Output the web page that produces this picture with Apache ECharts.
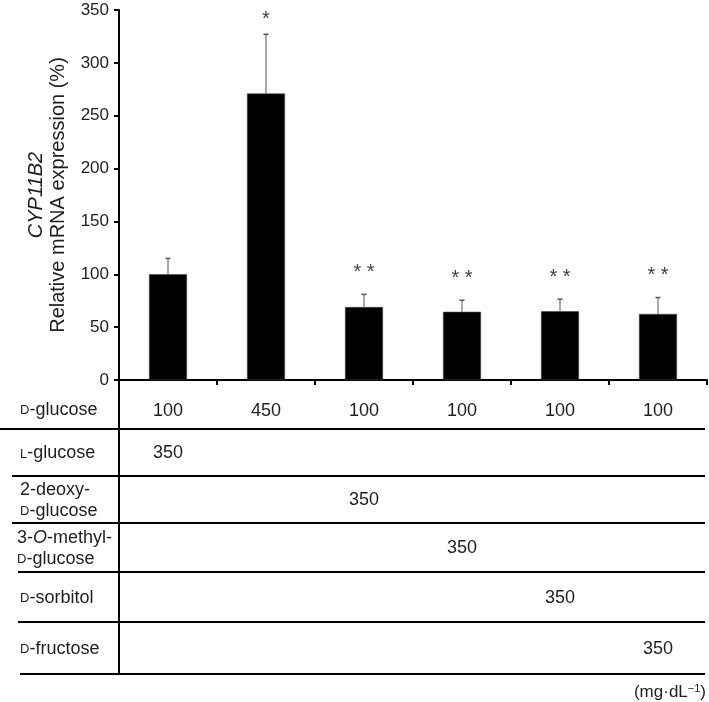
<!DOCTYPE html>
<html><head><meta charset="utf-8">
<script src="https://cdn.jsdelivr.net/npm/echarts@6/dist/echarts.min.js"></script>
<style>html,body{margin:0;padding:0;background:#fff}#c{width:709px;height:702px}</style>
</head><body><div id="c"></div>
<script>
// ---- data ----
const dGlucose = ['100', '450', '100', '100', '100', '100'];   // mg/dL, also x-axis labels
const meanExpr = [100, 271, 69, 64.5, 65, 62.5];               // relative mRNA expression (%)
const sdExpr = [15, 56, 12, 11, 11.5, 15.5];                   // upper error bars
const signif = ['', '*', '* *', '* *', '* *', '* *'];
const yMin = 0, yMax = 350, yStep = 50;
const rowLabels = ['{sc|L}-glucose', '2-deoxy-\n{sc|D}-glucose', '3-{it|O}-methyl-\n{sc|D}-glucose', '{sc|D}-sorbitol', '{sc|D}-fructose'];
const lGlucose = ['350', '', '', '', '', ''];
const deoxyGlucose = ['', '', '350', '', '', ''];
const methylGlucose = ['', '', '', '350', '', ''];
const sorbitol = ['', '', '', '', '350', ''];
const fructose = ['', '', '', '', '', '350'];
const tableRows = [lGlucose, deoxyGlucose, methylGlucose, sorbitol, fructose];
const unitText = '(mg·dL{sup|−1})';

const FONT = "'Liberation Sans', Arial, sans-serif";
const TXT = '#1e1e1e';
const GRID_TOP = 10;
const chart = echarts.init(document.getElementById('c'), null, {renderer: 'canvas'});

chart.setOption({
  animation: false,
  backgroundColor: '#fff',
  grid: {left: 119, right: 2, top: GRID_TOP, bottom: 322, containLabel: false, outerBoundsMode: 'none'},
  xAxis: {
    type: 'category', data: dGlucose, boundaryGap: true,
    axisLine: {lineStyle: {color: '#000', width: 2}},
    axisTick: {show: true, length: 5, lineStyle: {color: '#000', width: 2}, alignWithLabel: false},
    axisLabel: {color: TXT, fontSize: 18, fontFamily: FONT, margin: 22, interval: 0}
  },
  yAxis: {
    type: 'value', min: yMin, max: yMax, interval: yStep,
    name: '{i|CYP11B2}\n{n|Relative mRNA expression (%)}',
    nameLocation: 'middle', nameRotate: 90, nameGap: 50,
    nameTextStyle: {color: TXT, fontFamily: FONT, fontSize: 20, lineHeight: 22,
      rich: {i: {fontStyle: 'italic', fontSize: 20, fontFamily: FONT, color: TXT, lineHeight: 22},
             n: {fontSize: 20, fontFamily: FONT, color: TXT, lineHeight: 22}}},
    axisLine: {show: true, lineStyle: {color: '#000', width: 2}},
    axisTick: {show: true, length: 5, lineStyle: {color: '#000', width: 2}},
    axisLabel: {color: TXT, fontSize: 17, fontFamily: FONT, margin: 10},
    splitLine: {show: false}
  },
  series: [
    {type: 'bar', data: meanExpr, barWidth: 38, itemStyle: {color: '#000', borderColor: '#444', borderWidth: 0.6}},
    {type: 'custom', z: 5, clip: false,
      data: meanExpr.map((m, i) => [i, m, sdExpr[i]]),
      renderItem: function (params, api) {
        const i = api.value(0);
        const base = api.coord([i, api.value(1)]);
        const top = api.coord([i, api.value(1) + api.value(2)]);
        const starY = Math.max(top[1] - 22, GRID_TOP + 9);
        return {type: 'group', children: [
          {type: 'line', shape: {x1: base[0], y1: base[1], x2: top[0], y2: top[1]}, style: {stroke: '#555', lineWidth: 1}},
          {type: 'line', shape: {x1: top[0] - 2.5, y1: top[1], x2: top[0] + 2.5, y2: top[1]}, style: {stroke: '#555', lineWidth: 1.5}},
          {type: 'text', x: top[0], y: starY, style: {text: signif[params.dataIndex], fill: '#444', fontSize: 20, fontFamily: FONT, align: 'center', verticalAlign: 'middle'}}
        ]};
      }
    }
  ]
});

// ---- table below the chart ----
const colX = dGlucose.map((_, i) => chart.convertToPixel({xAxisIndex: 0}, i));
const axisY = chart.convertToPixel({yAxisIndex: 0}, yMin);
const axisX = colX[0] - (colX[1] - colX[0]) / 2;
const lineYs = [429, 476, 523, 572, 622, 674];
const lineX0 = [0, 12, 12, 18, 18, 20];
const lineX1 = 705;
const g = [];
const labelRich = {sc: {fontSize: 13, fontFamily: FONT, fill: TXT, verticalAlign: 'bottom', padding: [0, 0, 3.5, 0]},
                   it: {fontStyle: 'italic', fontSize: 18, fontFamily: FONT, fill: TXT}};
// vertical separator (continuation of y axis)
g.push({type: 'line', shape: {x1: axisX, y1: axisY, x2: axisX, y2: lineYs[lineYs.length - 1] + 1}, style: {stroke: '#000', lineWidth: 2}});
lineYs.forEach((y, k) => g.push({type: 'line', shape: {x1: lineX0[k], y1: y, x2: lineX1, y2: y}, style: {stroke: '#000', lineWidth: 2}}));
// D-glucose row label
g.push({type: 'text', x: 20, y: 410, style: {text: '{sc|D}-glucose', rich: labelRich, fontSize: 18, fontFamily: FONT, fill: TXT, align: 'left', verticalAlign: 'middle', lineHeight: 21}});
tableRows.forEach((row, r) => {
  const yc = (lineYs[r] + lineYs[r + 1]) / 2 + 1;
  g.push({type: 'text', x: r === 2 ? 17 : 20, y: yc, style: {text: rowLabels[r], rich: labelRich, fontSize: 18, fontFamily: FONT, fill: TXT, align: 'left', verticalAlign: 'middle', lineHeight: 21}});
  row.forEach((v, c) => {
    if (v) g.push({type: 'text', x: colX[c], y: yc, style: {text: v, fontSize: 18, fontFamily: FONT, fill: TXT, align: 'center', verticalAlign: 'middle'}});
  });
});
g.push({type: 'text', x: 706, y: 692, style: {text: unitText, fontSize: 17, fontFamily: FONT, fill: TXT, align: 'right', verticalAlign: 'middle',
  rich: {sup: {fontSize: 11, fontFamily: FONT, fill: TXT, verticalAlign: 'top'}}}});
chart.setOption({graphic: g});
</script>
</body></html>
